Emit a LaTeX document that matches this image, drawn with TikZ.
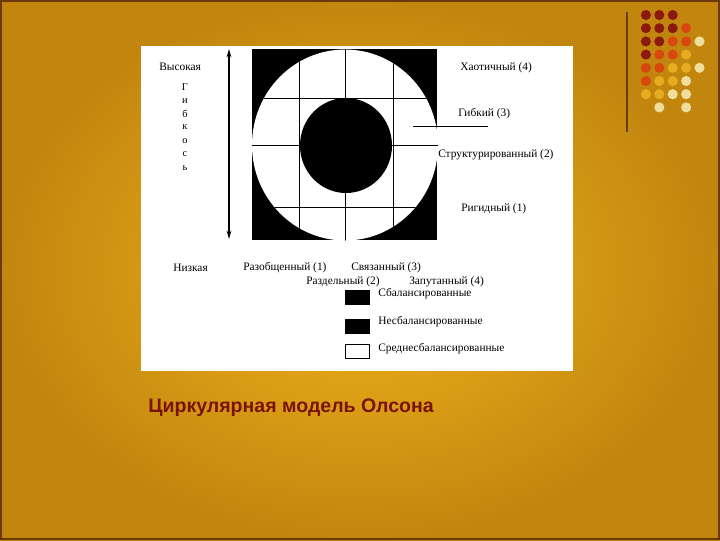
\documentclass[tikz,border=0pt]{standalone}
\usepackage{fontspec}
\setmainfont{Liberation Serif}
\newfontfamily\titlefont{Liberation Sans}
\usetikzlibrary{arrows.meta}
\usetikzlibrary{positioning}
\definecolor{SlideGold}{HTML}{F0B41C}
\definecolor{SlideEdge}{HTML}{C2860F}
\definecolor{SlideBorder}{HTML}{6A3A0A}
\definecolor{DarkRed}{HTML}{8A1A0E}
\definecolor{OrangeRed}{HTML}{D8480E}
\definecolor{DeepGold}{HTML}{E4AC1E}
\definecolor{PaleGold}{HTML}{F0DE9C}
\definecolor{TitleRed}{HTML}{7A1208}

\begin{document}
\begin{tikzpicture}[x=0.025cm, y=-0.025cm,
    lbl/.style={anchor=west, inner sep=0pt, font=\fontsize{8.1}{9.5}\selectfont},
    vlbl/.style={inner sep=0pt, font=\fontsize{7.4}{8}\selectfont},
    keybox/.style={draw, line width=0.6pt, minimum width=17pt, minimum height=10pt, inner sep=0pt},
    dot/.style={circle, inner sep=0pt, minimum size=7.2pt}]
  % slide background
  \shade[inner color=SlideGold, outer color=SlideEdge] (0,0) rectangle (720,540);
  \draw[SlideBorder, line width=0.9pt] (1,1) rectangle (719,539);

  % decoration top right
  \coordinate (DecoTop) at (627,12);
  \coordinate (DecoBot) at (627,132);
  \draw[SlideBorder, line width=1.1pt] (DecoTop) -- (DecoBot);
  \foreach \c/\r/\col in {1/1/DarkRed,2/1/DarkRed,3/1/DarkRed,
      1/2/DarkRed,2/2/DarkRed,3/2/DarkRed,4/2/OrangeRed,
      1/3/DarkRed,2/3/DarkRed,3/3/OrangeRed,4/3/OrangeRed,5/3/PaleGold,
      1/4/DarkRed,2/4/OrangeRed,3/4/OrangeRed,4/4/DeepGold,
      1/5/OrangeRed,2/5/OrangeRed,3/5/DeepGold,4/5/DeepGold,5/5/PaleGold,
      1/6/OrangeRed,2/6/DeepGold,3/6/DeepGold,4/6/PaleGold,
      1/7/DeepGold,2/7/DeepGold,3/7/PaleGold,4/7/PaleGold,
      2/8/PaleGold,4/8/PaleGold}{%
    \node[dot, fill=\col] (dot-\c-\r) at (632.5+13.4*\c, 1.8+13.2*\r) {};
  }

  % white panel
  \fill[white] (141,46) rectangle (573,371);

  % circumplex
  \coordinate (Centre) at (345,145);
  \fill[black] (252,49) rectangle (437,240);
  \fill[white] (Centre) ellipse [x radius=93, y radius=95.5];
  \begin{scope}
    \clip (Centre) ellipse [x radius=93, y radius=95.5];
    \foreach \gx in {299,345,393}{%
      \draw[line width=0.7pt] (\gx,40) -- (\gx,250);
    }
    \foreach \gy in {98,145,207}{%
      \draw[line width=0.7pt] (240,\gy) -- (450,\gy);
    }
  \end{scope}
  \fill[black] (346,145.5) ellipse [x radius=46, y radius=47.5];
  \coordinate (FlexA) at (413,126);
  \coordinate (FlexB) at (488,126);
  \draw[line width=0.7pt] (FlexA) -- (FlexB);

  % flexibility axis
  \coordinate (High) at (229,49);
  \coordinate (Low) at (229,239);
  \draw[line width=0.8pt, {Stealth[length=6pt,width=3.4pt]}-{Stealth[length=6pt,width=3.4pt]}] (High) -- (Low);
  \node[lbl] (high) at (159,67) {Высокая};
  \node[lbl] (low) at (173,267.5) {Низкая};
  \foreach \ch [count=\i] in {Г,и,б,к,о,с,ь}{%
    \node[vlbl] (flex-\i) at (185,74+13.4*\i) {\ch};
  }

  % right labels
  \node[lbl] (chaotic) at (460,68) {Хаотичный (4)};
  \node[lbl] (flexible) at (458,114) {Гибкий (3)};
  \node[lbl] (structured) at (438,155) {Структурированный (2)};
  \node[lbl] (rigid) at (461,208.5) {Ригидный (1)};

  % bottom labels
  \node[lbl] (disengaged) at (243,267.5) {Разобщенный (1)};
  \node[lbl] (connected) at (351,267.5) {Связанный (3)};
  \node[lbl] (separated) at (306,282) {Раздельный (2)};
  \node[lbl] (enmeshed) at (409,282) {Запутанный (4)};

  % legend
  \node[keybox, fill=black] (keyA) at (357,297.5) {};
  \node[keybox, fill=black] (keyB) at (357,326.5) {};
  \node[keybox, fill=white] (keyC) at (357,351) {};
  \node[lbl] (keyAtxt) at (378,294) {Сбалансированные};
  \node[lbl] (keyBtxt) at (378,322) {Несбалансированные};
  \node[lbl] (keyCtxt) at (378,349) {Среднесбалансированные};

  % title
  \node[anchor=west, inner sep=0pt, text=TitleRed,
    font=\titlefont\bfseries\fontsize{13.9}{16}\selectfont] (title) at (148,408)
    {Циркулярная модель Олсона};
\end{tikzpicture}
\end{document}
